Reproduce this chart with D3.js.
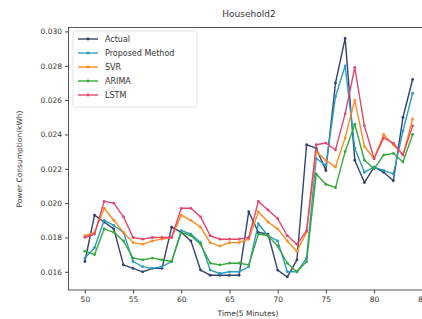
<!DOCTYPE html>
<html>
<head>
<meta charset="utf-8">
<script src="https://cdn.jsdelivr.net/npm/d3@7"></script>
<style>
  body { margin: 0; background: #fff; }
  text { font-family: "DejaVu Sans", sans-serif; fill: #333; }
</style>
</head>
<body>
<div id="chart"></div>
<script>
// time steps (5 minute intervals)
const steps = d3.range(50, 85);

const actual = [0.0166, 0.0193, 0.0189, 0.0185, 0.0164, 0.0162, 0.0160, 0.0162, 0.0162, 0.0186,
                0.0183, 0.0178, 0.0161, 0.0158, 0.0158, 0.0158, 0.0158, 0.0195, 0.0183, 0.0182,
                0.0161, 0.0157, 0.0167, 0.0234, 0.0232, 0.0219, 0.0270, 0.0296, 0.0225, 0.0212,
                0.0221, 0.0218, 0.0213, 0.0250, 0.0272];
const proposed = [0.0168, 0.0174, 0.0190, 0.0187, 0.0183, 0.0166, 0.0163, 0.0162, 0.0163, 0.0166,
                  0.0184, 0.0182, 0.0177, 0.0161, 0.0159, 0.0160, 0.0160, 0.0163, 0.0188, 0.0181,
                  0.0178, 0.0160, 0.0160, 0.0168, 0.0226, 0.0222, 0.0262, 0.0280, 0.0232, 0.0218,
                  0.0221, 0.0219, 0.0217, 0.0242, 0.0264];
const svr = [0.0181, 0.0183, 0.0197, 0.0190, 0.0183, 0.0177, 0.0176, 0.0178, 0.0179, 0.0180,
             0.0193, 0.0190, 0.0186, 0.0177, 0.0175, 0.0177, 0.0177, 0.0179, 0.0195, 0.0189,
             0.0185, 0.0178, 0.0172, 0.0183, 0.0230, 0.0225, 0.0221, 0.0238, 0.0260, 0.0233,
             0.0226, 0.0240, 0.0234, 0.0228, 0.0249];
const arima = [0.0172, 0.0170, 0.0185, 0.0183, 0.0178, 0.0168, 0.0167, 0.0168, 0.0167, 0.0166,
               0.0183, 0.0181, 0.0176, 0.0165, 0.0164, 0.0165, 0.0165, 0.0164, 0.0182, 0.0181,
               0.0175, 0.0165, 0.0160, 0.0166, 0.0217, 0.0211, 0.0209, 0.0230, 0.0246, 0.0225,
               0.0220, 0.0228, 0.0229, 0.0224, 0.0240];
const lstm = [0.0180, 0.0182, 0.0201, 0.0200, 0.0192, 0.0180, 0.0179, 0.0180, 0.0180, 0.0180,
              0.0197, 0.0197, 0.0192, 0.0181, 0.0179, 0.0179, 0.0179, 0.0180, 0.0201, 0.0196,
              0.0191, 0.0181, 0.0176, 0.0184, 0.0234, 0.0235, 0.0231, 0.0252, 0.0279, 0.0245,
              0.0226, 0.0238, 0.0235, 0.0228, 0.0245];

const seriesNames = ["Actual", "Proposed Method", "SVR", "ARIMA", "LSTM"];
const color = ["#33416b", "#2b9cc4", "#ff8a1e", "#35a83a", "#e4456e"];
const xTicks = [50, 55, 60, 65, 70, 75, 80, 85];
const yTicks = [0.016, 0.018, 0.020, 0.022, 0.024, 0.026, 0.028, 0.030];

const allSeries = [actual, proposed, svr, arima, lstm];

var margin = {top: 27.5, right: -7, bottom: 29, left: 68.5},
    width = 422 - margin.left - margin.right,
    height = 319 - margin.top - margin.bottom;

var svg = d3.select("#chart")
  .append("svg")
    .attr("width", 422)
    .attr("height", 319)
    .style("display", "block")
  .append("g")
    .attr("transform", "translate(" + margin.left + "," + margin.top + ")");

const xScale = d3.scaleLinear().domain([48.3, 85.7]).range([0, width]);
const yScale = d3.scaleLinear().domain([0.01494, 0.03023]).range([height, 0]);

const line = d3.line()
  .x((d, i) => xScale(steps[i]))
  .y(d => yScale(d));

// lines, drawn in legend order
allSeries.forEach((vals, k) => {
  svg.append("path")
    .datum(vals)
    .attr("fill", "none")
    .attr("stroke", color[k])
    .attr("stroke-width", 1.4)
    .attr("stroke-linejoin", "round")
    .attr("d", line);
  svg.selectAll(".pt" + k)
    .data(vals)
    .enter()
    .append("circle")
      .attr("cx", (d, i) => xScale(steps[i]))
      .attr("cy", d => yScale(d))
      .attr("r", 1.4)
      .attr("fill", color[k]);
});

// axes
const xAxis = svg.append("g")
  .attr("transform", "translate(0," + height + ")")
  .call(d3.axisBottom(xScale).tickValues(xTicks).tickSize(3.5).tickPadding(3));
const yAxis = svg.append("g")
  .call(d3.axisLeft(yScale).tickValues(yTicks).tickFormat(d3.format(".3f")).tickSize(3.5).tickPadding(3));
[xAxis, yAxis].forEach(a => {
  a.selectAll("text").style("font-size", "7.5px").attr("fill", "#333");
  a.selectAll("line").attr("stroke", "#444");
  a.select(".domain").remove();
});

// frame
svg.append("rect")
  .attr("width", width)
  .attr("height", height)
  .attr("fill", "none")
  .attr("stroke", "#444")
  .attr("stroke-width", 0.9);

// title and labels
svg.append("text")
  .attr("x", 249 - margin.left)
  .attr("y", 17 - margin.top)
  .attr("text-anchor", "middle")
  .style("font-size", "9px")
  .text("Household2");

svg.append("text")
  .attr("x", 248 - margin.left)
  .attr("y", 316 - margin.top)
  .attr("text-anchor", "middle")
  .style("font-size", "7.5px")
  .text("Time(5 Minutes)");

svg.append("text")
  .attr("transform", "rotate(-90)")
  .attr("x", -(159 - margin.top))
  .attr("y", 22 - margin.left)
  .attr("text-anchor", "middle")
  .style("font-size", "7.5px")
  .text("Power Consumption(kWh)");

// legend
const legend = svg.append("g").attr("transform", "translate(" + (73 - margin.left) + "," + (31 - margin.top) + ")");
legend.append("rect")
  .attr("width", 124)
  .attr("height", 76)
  .attr("rx", 2)
  .attr("fill", "#fff")
  .attr("fill-opacity", 0.8)
  .attr("stroke", "#ddd")
  .attr("stroke-width", 0.8);
seriesNames.forEach((name, i) => {
  const yy = 8 + i * 14;
  legend.append("line")
    .attr("x1", 5).attr("x2", 25)
    .attr("y1", yy).attr("y2", yy)
    .attr("stroke", color[i])
    .attr("stroke-width", 1.4);
  legend.append("circle")
    .attr("cx", 15).attr("cy", yy).attr("r", 1.4)
    .attr("fill", color[i]);
  legend.append("text")
    .attr("x", 32)
    .attr("y", yy)
    .attr("dy", "0.35em")
    .style("font-size", "8px")
    .text(name);
});
</script>
</body>
</html>
